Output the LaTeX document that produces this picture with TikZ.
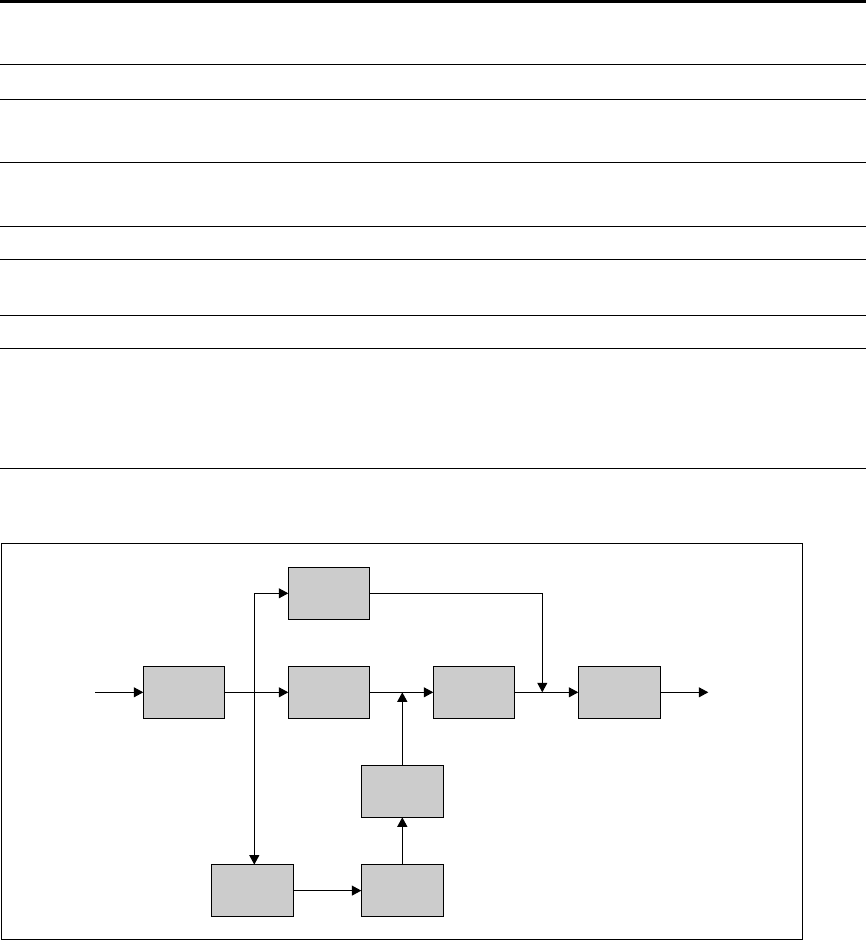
\documentclass[tikz,border=0pt]{standalone}
\usetikzlibrary{arrows.meta}
\begin{document}
\begin{tikzpicture}[x=1pt,y=-1pt,
  blk/.style={draw=black,fill=black!20,line width=1pt,minimum width=81pt,minimum height=52pt,inner sep=0pt,outer sep=0pt},
  wblk/.style={blk,minimum width=82pt},
  arr/.style={line width=1pt,-{Triangle[length=9.5pt,width=10pt]}},
  rule/.style={line width=1pt}]
\useasboundingbox (0,0) rectangle (866,940);
% table rules
\fill[black] (0,0) rectangle (866,3.4);
\foreach \yy in {64.3,99,162.3,226,259.3,315,348,468}
  \draw[rule] (0,\yy) -- (866,\yy);
% frame
\draw[line width=1pt] (1.5,543.7) rectangle (802.3,939.3);
% blocks
\node[blk] (B1) at (183.8,692.3) {};
\node[blk] (B2) at (328.8,593.3) {};
\node[blk] (B3) at (328.8,692.3) {};
\node[blk] (B4) at (473.8,692.3) {};
\node[wblk] (B5) at (619.3,692.3) {};
\node[wblk] (B6) at (252.3,890.6) {};
\node[wblk] (B7) at (402.3,791.3) {};
\node[wblk] (B8) at (402.3,890.6) {};
% coordinates
\coordinate (in) at (95,692.3);
\coordinate (out) at (708.3,692.3);
\coordinate (j1) at (402.3,692.3);
\coordinate (j2) at (542.3,692.3);
\coordinate (sp) at (254.3,692.3);
% connectors
\draw[arr] (in) -- (B1.west);
\draw[arr] (B1.east) -- (B3.west);
\draw[arr] (sp |- B2.west) -- (B2.west);
\draw[arr] (sp |- B2.west) -- (sp |- B6.north);
\draw[arr] (B3.east) -- (B4.west);
\draw[arr] (B4.east) -- (B5.west);
\draw[arr] (B5.east) -- (out);
\draw[arr] (B2.east) -| (j2);
\draw[arr] (B7.north) -- (j1);
\draw[arr] (B8.north) -- (B7.south);
\draw[arr] (B6.east) -- (B8.west);
\end{tikzpicture}
\end{document}
